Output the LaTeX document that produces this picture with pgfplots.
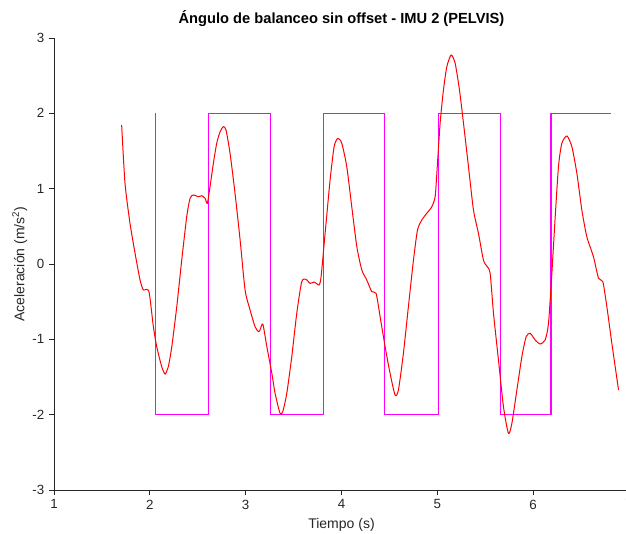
\documentclass[border=0pt]{standalone}
\usepackage{pgfplots}
\pgfplotsset{compat=1.18}
\usetikzlibrary{calc}
\usepackage{fontspec}
\setmainfont{Liberation Sans}
\definecolor{octred}{RGB}{255,0,0}
\definecolor{octmag}{RGB}{255,0,255}
\definecolor{axgray}{RGB}{38,38,38}
\begin{document}
\begin{tikzpicture}
\begin{axis}[
  name=ax,
  scale only axis,
  width=431.25pt, height=339pt,
  xmin=1, xmax=7, ymin=-3, ymax=3,
  axis x line*=bottom, axis y line*=left,
  axis line style={axgray, line width=0.6pt},
  xtick={1,2,3,4,5,6,7}, ytick={-3,-2,-1,0,1,2,3},
  tick align=outside, major tick length=3.75pt,
  tick style={axgray, line width=0.6pt},
  /pgf/number format/assume math mode=true,
  ticklabel style={font=\fontsize{10}{12}\selectfont, text=axgray},
  title={\bfseries Ángulo de balanceo sin offset - IMU 2 (PELVIS)},
  title style={font=\fontsize{11}{13}\selectfont, yshift=-1pt},
  xlabel={Tiempo (s)}, ylabel={Aceleración (m/s\textsuperscript{2})},
  label style={font=\fontsize{10.5}{12}\selectfont, text=axgray},
  ylabel style={yshift=-3pt},
  clip=false,
]
\addplot[octmag, line width=0.85pt] coordinates {
(2.058,2) (2.058,-2) (2.611,-2) (2.611,2) (3.255,2) (3.255,-2) (3.810,-2) (3.810,2)
(4.447,2) (4.447,-2) (5.010,-2) (5.010,2) (5.660,2) (5.660,-2) (6.186,-2) (6.186,2) (6.81,2)
};
\addplot[octred, line width=0.75pt, smooth, tension=0.4] coordinates {
(1.706,1.845) (1.741,1.071) (1.793,0.54) (1.846,0.142) (1.898,-0.213) (1.932,-0.345)
(1.967,-0.336) (1.995,-0.39) (2.037,-0.832) (2.072,-1.098) (2.124,-1.363) (2.159,-1.46)
(2.193,-1.363) (2.229,-1.098) (2.281,-0.567) (2.333,0.053) (2.385,0.628) (2.42,0.872)
(2.454,0.916) (2.506,0.893) (2.542,0.906) (2.576,0.872) (2.6,0.806) (2.628,1.026)
(2.663,1.337) (2.698,1.602) (2.733,1.756) (2.767,1.823) (2.795,1.779) (2.837,1.469)
(2.889,0.938) (2.942,0.319) (2.994,-0.345) (3.046,-0.611) (3.098,-0.832) (3.133,-0.898)
(3.150,-0.876) (3.179,-0.797) (3.221,-1.098) (3.273,-1.45) (3.307,-1.717) (3.359,-1.982)
(3.387,-1.96) (3.429,-1.717) (3.481,-1.231) (3.533,-0.655) (3.585,-0.235) (3.63,-0.204)
(3.672,-0.257) (3.717,-0.24) (3.766,-0.279) (3.787,-0.168) (3.829,0.407) (3.881,1.115)
(3.923,1.557) (3.961,1.668) (4.003,1.602) (4.055,1.292) (4.107,0.761) (4.16,0.23)
(4.212,-0.08) (4.264,-0.213) (4.316,-0.368) (4.361,-0.39) (4.403,-0.7) (4.455,-1.098)
(4.507,-1.452) (4.559,-1.739) (4.594,-1.673) (4.646,-1.186) (4.698,-0.567) (4.751,0.053)
(4.793,0.451) (4.838,0.584) (4.89,0.673) (4.943,0.761) (4.977,0.893) (4.995,1.204)
(5.029,1.868) (5.064,2.31) (5.099,2.619) (5.144,2.774) (5.186,2.664) (5.231,2.31)
(5.273,1.868) (5.325,1.292) (5.377,0.717) (5.429,0.407) (5.481,0.053) (5.516,-0.027)
(5.551,-0.124) (5.586,-0.655) (5.638,-1.275) (5.69,-1.894) (5.742,-2.248) (5.778,-2.115)
(5.83,-1.673) (5.882,-1.231) (5.927,-0.965) (5.969,-0.92) (6.021,-1.009) (6.073,-1.062)
(6.125,-1.009) (6.16,-0.788) (6.195,-0.124) (6.23,0.628) (6.264,1.292) (6.299,1.602)
(6.352,1.699) (6.404,1.557) (6.456,1.204) (6.508,0.717) (6.56,0.362) (6.629,0.097)
(6.682,-0.19) (6.727,-0.235) (6.769,-0.567) (6.821,-1.053) (6.891,-1.673)
};
\end{axis}
\pgfresetboundingbox
\path[use as bounding box] ($(ax.south west)+(-40.5pt,-33pt)$) rectangle ($(ax.south west)+(429pt,367.5pt)$);
\end{tikzpicture}
\end{document}
